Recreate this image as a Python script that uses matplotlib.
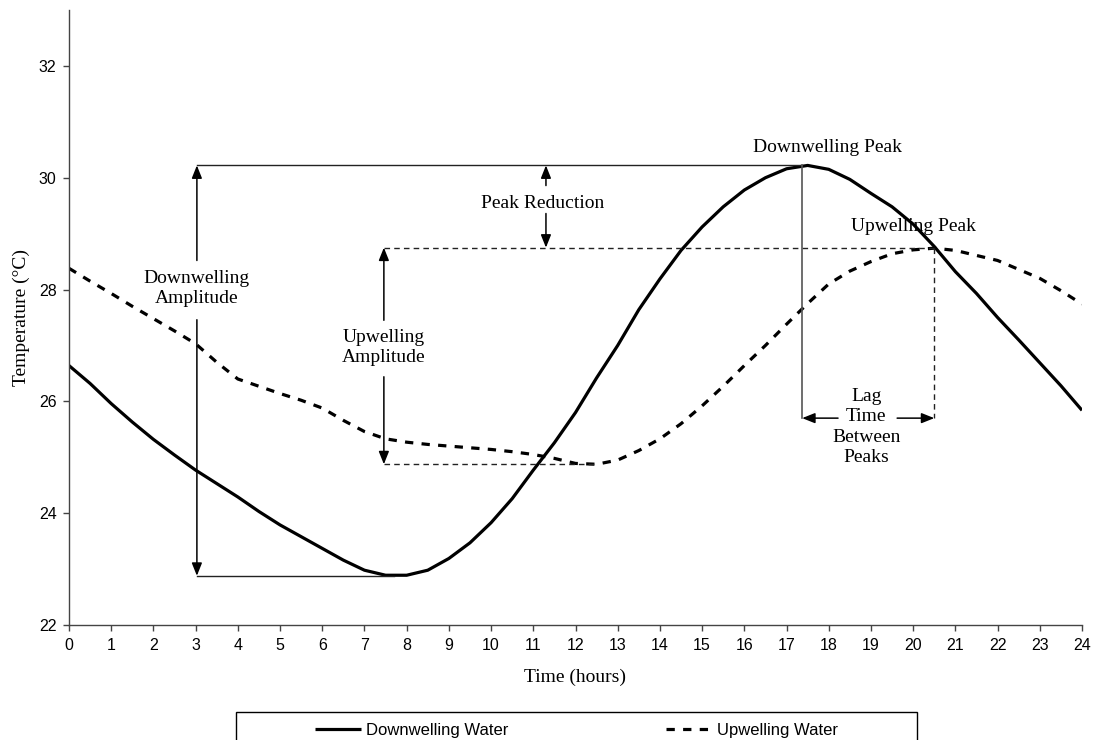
import matplotlib
matplotlib.use("Agg")
import matplotlib.pyplot as plt
from matplotlib.patches import Rectangle
import numpy as np

# hourly time axis, read every half hour off the chart
hours = np.arange(0, 24.5, 0.5)

downwelling = [26.64, 26.32, 25.96, 25.63, 25.32, 25.04, 24.77, 24.53, 24.29, 24.03,
               23.79, 23.58, 23.37, 23.16, 22.98, 22.89, 22.89, 22.98, 23.19, 23.47,
               23.83, 24.26, 24.77, 25.26, 25.80, 26.42, 27.00, 27.64, 28.19, 28.70,
               29.12, 29.48, 29.78, 30.00, 30.16, 30.22, 30.15, 29.97, 29.72, 29.48,
               29.17, 28.77, 28.32, 27.93, 27.50, 27.10, 26.69, 26.28, 25.84]

upwelling = [28.38, 28.15, 27.93, 27.70, 27.48, 27.26, 27.03, 26.70, 26.40, 26.27,
             26.14, 26.02, 25.88, 25.66, 25.46, 25.33, 25.27, 25.23, 25.20, 25.17,
             25.14, 25.10, 25.05, 24.98, 24.89, 24.875, 24.95, 25.12, 25.33, 25.60,
             25.92, 26.27, 26.64, 27.00, 27.38, 27.75, 28.10, 28.33, 28.50, 28.64,
             28.71, 28.74, 28.70, 28.61, 28.52, 28.36, 28.20, 27.98, 27.74]

series_names = ["Downwelling Water", "Upwelling Water"]

# key levels used by the annotations
down_peak_t, down_peak = 17.37, 30.22
down_min_t, down_min = 7.7, 22.88
up_peak_t, up_peak = 20.5, 28.75
up_min_t, up_min = 12.5, 24.875
lag_y = 25.70

SERIF = "Liberation Serif"
SANS = "Liberation Sans"

fig = plt.figure(figsize=(10.94, 7.40), dpi=100)
ax = fig.add_axes([69 / 1094, 1 - 625 / 740, 1013 / 1094, 615 / 740])

l1, = ax.plot(hours, downwelling, color="black", lw=2.3, solid_capstyle="butt")
l2, = ax.plot(hours, upwelling, color="black", lw=2.3, linestyle=(0, (2.6, 2.6)))

ax.set_xlim(0, 24)
ax.set_ylim(22, 33)
ax.set_xticks(range(0, 25))
ax.set_yticks(range(22, 33, 2))
for s in ["top", "right"]:
    ax.spines[s].set_visible(False)
for s in ["left", "bottom"]:
    ax.spines[s].set_color("#444444")
    ax.spines[s].set_linewidth(1)
ax.tick_params(direction="out", length=4, width=1, color="#444444", labelsize=11.5, pad=5)
for lab in ax.get_xticklabels() + ax.get_yticklabels():
    lab.set_fontfamily(SANS)

ax.set_xlabel("Time (hours)", fontfamily=SERIF, fontsize=14, labelpad=12)
ax.set_ylabel("Temperature (\u00b0C)", fontfamily=SERIF, fontsize=14, labelpad=6)

thin = dict(color="#222222", lw=1)
dash = dict(color="#222222", lw=1, linestyle=(0, (4, 3)))


def arrow(x0, y0, x1, y1):
    ax.annotate("", xy=(x1, y1), xytext=(x0, y0),
                arrowprops=dict(arrowstyle="-|>,head_length=0.55,head_width=0.22",
                                color="black", lw=1.1, mutation_scale=14,
                                shrinkA=0, shrinkB=0))


def label(x, y, text):
    ax.text(x, y, text, ha="center", va="center", fontfamily=SERIF, fontsize=14,
            linespacing=1.25)


# downwelling amplitude
ax.plot([3.03, down_peak_t], [down_peak, down_peak], **thin)
ax.plot([3.03, down_min_t], [down_min, down_min], **thin)
arrow(3.03, 28.52, 3.03, down_peak)
arrow(3.03, 27.46, 3.03, down_min)
label(3.03, 28.02, "Downwelling\nAmplitude")

# upwelling amplitude
ax.plot([7.46, up_peak_t], [up_peak, up_peak], **dash)
ax.plot([7.46, up_min_t], [up_min, up_min], **dash)
arrow(7.46, 27.45, 7.46, up_peak)
arrow(7.46, 26.44, 7.46, up_min)
label(7.46, 26.96, "Upwelling\nAmplitude")

# peak reduction
arrow(11.3, 29.86, 11.3, down_peak)
arrow(11.3, 29.36, 11.3, up_peak)
label(11.21, 29.54, "Peak Reduction")

# lag time between peaks
ax.plot([down_peak_t, down_peak_t], [down_peak, lag_y], color="#555555", lw=1.2)
ax.plot([up_peak_t, up_peak_t], [up_peak, lag_y], **dash)
arrow(18.22, lag_y, down_peak_t, lag_y)
arrow(19.62, lag_y, up_peak_t, lag_y)
label(18.89, 25.54, "Lag\nTime\nBetween\nPeaks")

label(17.98, 30.54, "Downwelling Peak")
label(20.0, 29.12, "Upwelling Peak")

# legend box sits at the very bottom and runs off the figure edge
fig.add_artist(Rectangle((236 / 1094, -0.02), 681 / 1094, 28 / 740 + 0.02,
                         transform=fig.transFigure, fill=False, ec="black", lw=1))
leg = fig.legend([l1, l2], series_names, loc="center", ncol=2, frameon=False,
                 bbox_to_anchor=(576.5 / 1094, 1 - 730 / 740),
                 prop={"family": SANS, "size": 12}, handlelength=2.8,
                 handletextpad=0.3, columnspacing=9.4, borderpad=0)

fig.savefig("out.png", dpi=100)
